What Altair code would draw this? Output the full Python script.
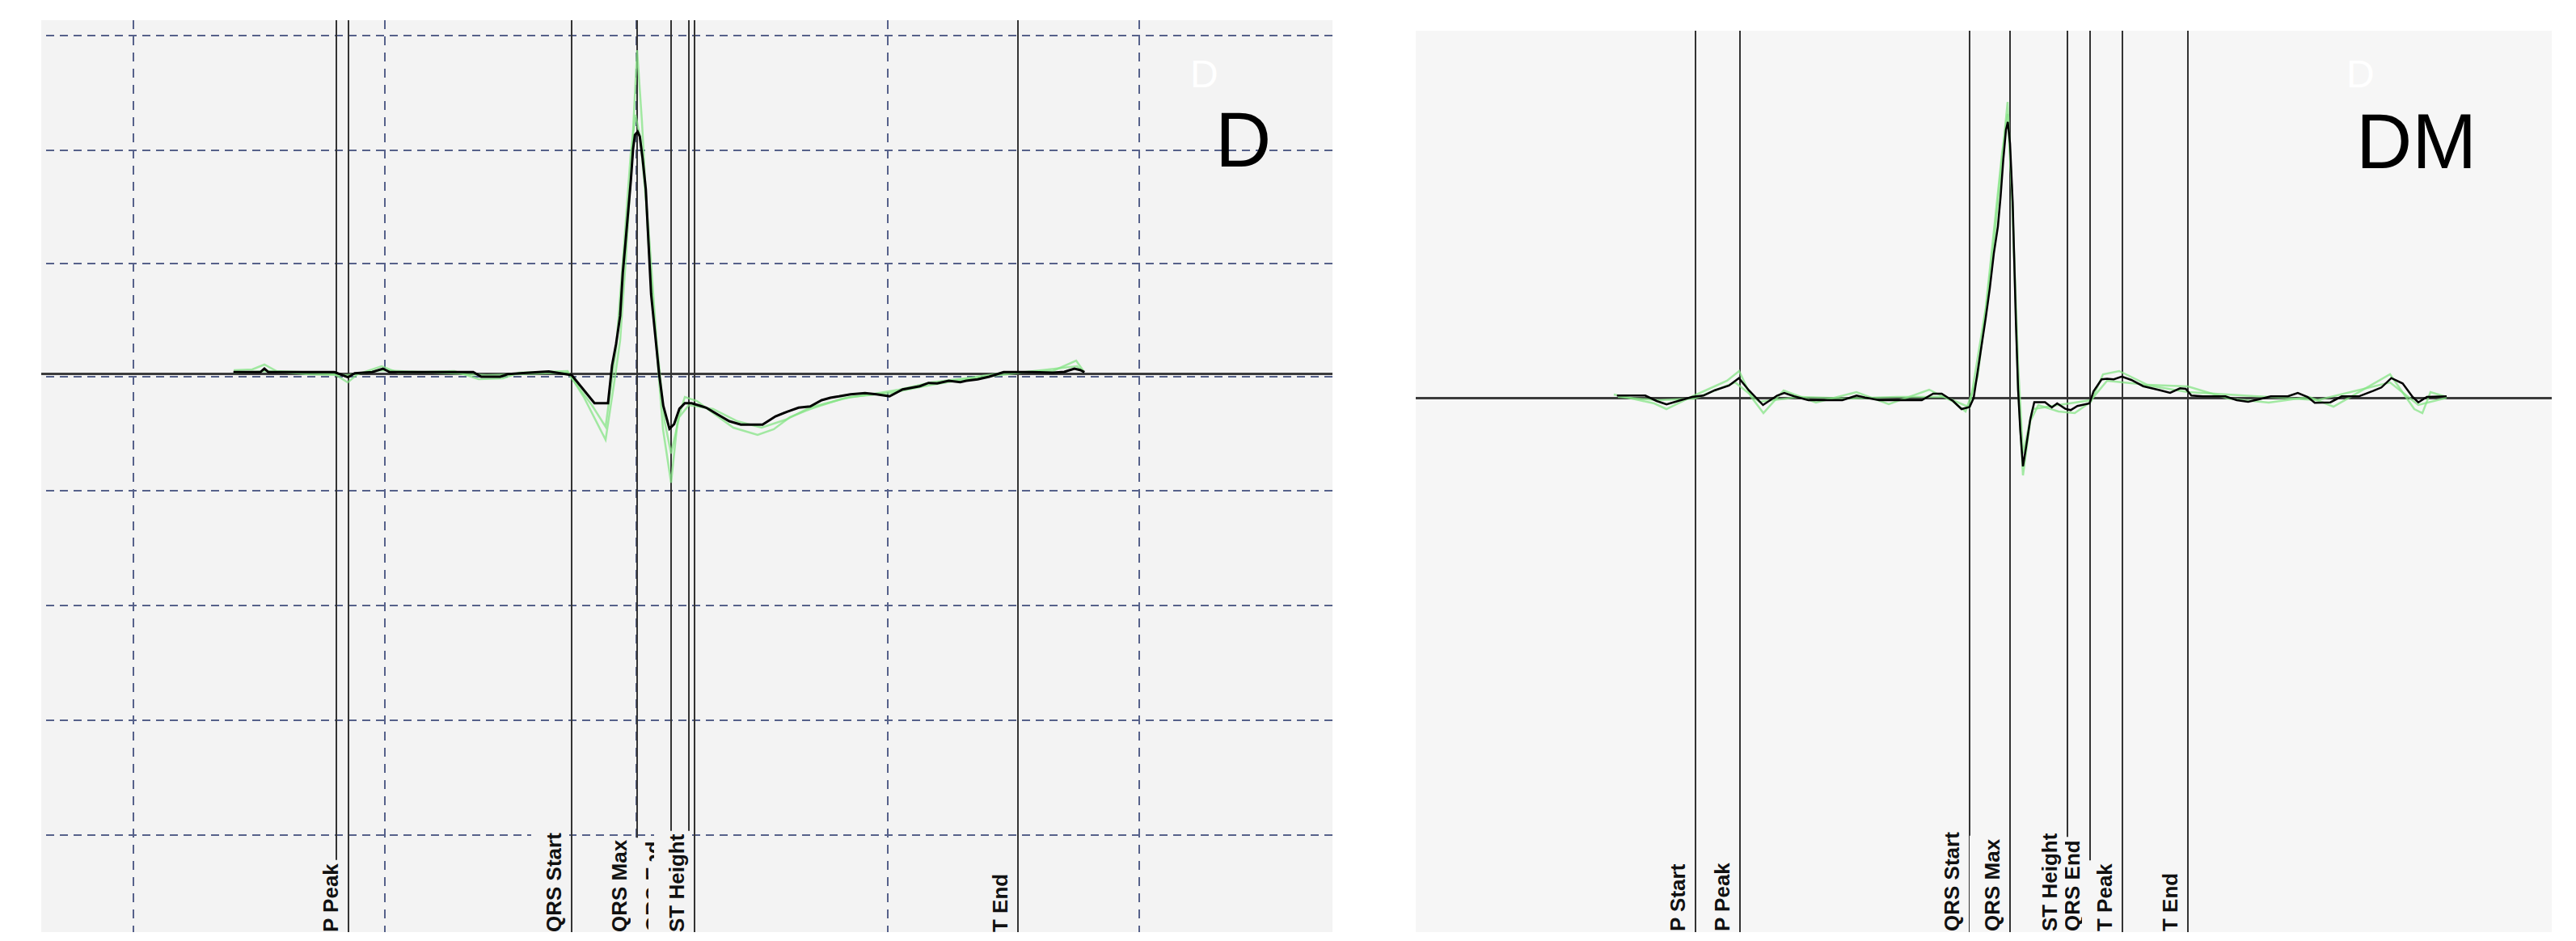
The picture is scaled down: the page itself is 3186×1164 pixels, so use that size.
import altair as alt
import pandas as pd

# ---------------- data ----------------
# time in ms from the panel's left edge, amplitude in a.u. (0 = isoelectric line)

# Left panel "D" - averaged beat (black)
left_black_t = [237.7, 271, 276, 281, 329.3, 346, 362.7, 379.3, 387.7, 409.3, 422.7, 431, 447.7, 507.7,
                534.3, 544.3, 567.7, 577.7, 611, 627.7, 656, 684.3, 701, 706, 711, 716, 719.3, 722.7, 726,
                729.3, 732, 734.3, 737.7, 740.3, 743.7, 747.7, 751, 754.3, 759.3, 764.3, 769.3, 777, 782.7,
                789.3, 796, 804.3, 814.3, 822.4, 836.7, 851, 865.3, 892.1, 908.1, 922.4, 936.7, 951, 965.3,
                976, 986.7, 1001, 1018.9, 1033.1, 1049.2, 1065.3, 1086.7, 1097.4, 1108.1, 1122.4, 1136.7,
                1143.9, 1158.1, 1172.4, 1190.3, 1226, 1251, 1265.3, 1277.8, 1284.9, 1290.3]
left_black_a = [2.2, 2.2, 6.5, 2.2, 2.2, 2.2, 2.2, -4.2, 0.8, 2.2, 6.5, 2.2, 2.2, 2.2,
                2.2, -3.5, -3.5, -0.2, 2.1, 2.9, -1.5, -36.2, -36.2, 10.5, 37.3, 71.8, 125.3, 163.6, 201.9,
                240.1, 278.4, 295.6, 299.5, 293.7, 266.9, 228.7, 163.6, 98.5, 48.8, -1, -39.2, -67.9, -62.2,
                -43.1, -36.2, -36.2, -39.2, -41.8, -50.2, -58.5, -62.8, -62.8, -52.5, -46.8, -41.8, -40.2, -32.5,
                -29.5, -27.8, -25.2, -23.8, -25.2, -27.8, -19.2, -15.2, -11.2, -11.8, -8.5, -10.2,
                -8.5, -6.8, -3.5, 2.2, 2.2, 1.5, 2.5, 6.5, 4.8, 2.2]

# Left panel - individual beats (green)
left_g1_t = [238, 261, 276, 291, 341, 363, 379, 391, 421, 441, 511, 541, 571, 591, 651, 671, 698, 709, 716,
             723, 730, 737, 743, 751, 761, 769, 779, 787, 796, 811, 831, 856, 886, 906, 926, 951, 991, 1031,
             1061, 1101, 1151, 1191, 1251, 1280, 1289]
left_g1_a = [4.5, 5.5, 11.5, 3.5, 1.5, -0.5, -10.5, -0.5, 9.5, 1.5, 3.5, -6.5, -5.5, 1.5, 3.5, -28.5, -81.5,
             -8.5, 41.5, 141.5, 261.5, 400.5, 311.5, 161.5, 31.5, -68.5, -134.5, -58.5, -28.5, -33.5, -48.5,
             -66.5, -75.5, -68.5, -53.5, -43.5, -30.5, -24.5, -19.5, -10.5, -4.5, 1.5, 3.5, 16.5, 3.5]
left_g2_t = [238, 281, 331, 379, 421, 511, 551, 651, 681, 698, 711, 721, 729, 735, 741, 751, 761, 771, 779,
             789, 801, 831, 861, 891, 921, 951, 1001, 1051, 1101, 1151, 1211, 1281, 1289]
left_g2_a = [1.5, 3.5, -0.5, -1.5, 4.5, 0.5, -1.5, 1.5, -38.5, -65.5, 31.5, 161.5, 271.5, 320.5, 291.5,
             181.5, 41.5, -58.5, -98.5, -53.5, -38.5, -43.5, -58.5, -66.5, -56.5, -41.5, -28.5, -23.5,
             -13.5, -5.5, 1.5, 9.5, 2.5]

left_marker_names = ["P Start", "P Peak", "QRS Start", "QRS Max", "QRS End", "T Peak", "ST Height", "T End"]
left_marker_t = [365, 380, 656, 737, 779, 801, 808, 1208]
left_vgrid_t = [114, 425, 736, 1047, 1358]
left_hgrid_a = [418.5, 276.5, 136.5, -3.5, -144.5, -286.5, -428.5, -570.5]

# Right panel "DM" - averaged beat (black)
right_black_t = [248.8, 283.9, 297.9, 310.2, 327.8, 341.8, 355.8, 369.9, 387.4, 399.7, 411.9, 429.5, 447,
                 455.8, 468.1, 485.6, 510.2, 527.7, 545.2, 555.8, 573.3, 608.4, 625.9, 639.9, 650.5, 664.5,
                 675, 685, 690, 695, 700, 705, 710, 715, 720, 723.3, 726.7, 730, 732.3, 735, 738.3, 742.3,
                 745, 747.7, 751, 755, 760, 765, 778.3, 786.7, 793.3, 803.3, 810, 818.3, 833.3, 838.3, 848.3,
                 855, 863.3, 873.3, 885, 899.7, 910.2, 920.7, 933, 945.3, 952.3, 959.3, 973.4, 1001.4,
                 1015.5, 1029.5, 1043.5, 1057.5, 1078.6, 1090.9, 1103.1, 1111.9, 1131.2, 1145.2, 1166.3,
                 1183.8, 1194.3, 1206.6, 1220.6, 1232.9, 1240, 1250.5, 1275]
right_black_a = [3.2, 3.2, -3.5, -7.8, -2.5, 1.5, 3.2, 9.8, 15.5, 24.8, 9.8, -8.5, 3.2,
                 6.5, 2.2, -2.5, -2.5, -2.5, 3.2, 0.8, -2.5, -2.5, -2.5, 5.5, 5.5, -3.5,
                 -13.5, -11, 0.1, 33.3, 66.5, 99.6, 136.1, 179.2, 212.4, 248.9, 295.3, 331.8, 341.7, 315.2,
                 242.2, 93, 10.1, -39.7, -84.4, -59.6, -26.4, -4.9, -4.9, -11.5, -6.5, -13.1, -14.8, -9.8,
                 -6.5, 8.4, 23.3, 24, 23.3, 26.7, 22.5, 14.8, 12.2, 9.8, 6.5, 12.2, 11.5, 3.2, 2.2, 2.2,
                 -2.5, -4.5, -1.2, 2.2, 2.2, 6.5, 1.5, -5.8, -5.2, 2.2, 2.2,
                 8.8, 13.2, 24.8, 18.2, 1.5, -5.2, 1.5, 2.2]

right_g1_t = [245, 295, 310, 345, 385, 400, 415, 430, 455, 495, 545, 585, 635, 665, 680, 695, 715, 732, 738,
              745, 751, 760, 770, 795, 815, 835, 850, 870, 905, 955, 1005, 1055, 1105, 1135, 1205, 1235,
              1245, 1255, 1275]
right_g1_a = [4.5, -6.5, -13.5, 3.5, 21.5, 33.5, 1.5, -18.5, 9.5, -5.5, 7.5, -7.5, 10.5, -4.5, -16.5,
              26.5, 191.5, 366.5, 241.5, 11.5, -95.5, -28.5, -8.5, -16.5, -18.5, -4.5, 29.5, 33.5, 16.5,
              14.5, -0.5, -5.5, 1.5, -10.5, 29.5, -13.5, -18.5, 7.5, 1.5]
right_g2_t = [250, 300, 345, 395, 425, 475, 535, 595, 655, 685, 705, 725, 732, 737, 745, 751, 763, 795,
              835, 855, 895, 955, 1055, 1115, 1205, 1240, 1275]
right_g2_a = [1.5, -2.5, -0.5, 19.5, -4.5, 1.5, -0.5, 1.5, 1.5, -11.5, 111.5, 301.5, 351.5, 261.5, 41.5,
              -68.5, -13.5, -8.5, -2.5, 21.5, 17.5, 7.5, 1.5, -2.5, 19.5, -8.5, 0.5]

right_marker_names = ["P Start", "P Peak", "QRS Start", "QRS Max", "QRS End", "ST Height", "T Peak", "T End"]
right_marker_t = [346, 401, 685, 735, 834, 806, 874, 955]

# ---------------- styling ----------------
H = 1128
LABEL_FONT = "Liberation Sans"
LABEL_SIZE = 26
CHAR_W = {" ": 278, "P": 667, "S": 667, "t": 333, "a": 556, "r": 389, "e": 556, "k": 556, "Q": 778,
          "R": 722, "M": 833, "x": 556, "E": 667, "n": 611, "d": 611, "H": 722, "i": 278, "g": 611,
          "h": 611, "T": 611}


def text_len(s):
    return sum(CHAR_W.get(c, 600) for c in s) / 1000.0 * LABEL_SIZE


def panel(W, ydom, top_off, bg, black_t, black_a, greens, names, mts, vgrid, hgrid,
          big, big_x, big_y, small_x, label_y, black_w):
    xs = alt.Scale(domain=[0, W], nice=False, zero=False)
    ys = alt.Scale(domain=ydom, nice=False, zero=False)
    one = pd.DataFrame({"k": [0]})
    layers = []
    layers.append(alt.Chart(one).mark_rect(color=bg).encode(
        x=alt.value(0), x2=alt.value(W), y=alt.value(top_off), y2=alt.value(H)))
    if vgrid:
        layers.append(alt.Chart(pd.DataFrame({"t": vgrid})).mark_rule(
            color="#56618a", strokeWidth=2, strokeDash=[11, 9]).encode(
            x=alt.X("t:Q", scale=xs, axis=None)))
    if hgrid:
        layers.append(alt.Chart(pd.DataFrame({"a": hgrid})).mark_rule(
            color="#56618a", strokeWidth=2, strokeDash=[10, 7]).encode(
            y=alt.Y("a:Q", scale=ys, axis=None)))
    layers.append(alt.Chart(pd.DataFrame({"a": [0]})).mark_rule(
        color="#3c3c3c", strokeWidth=3).encode(y=alt.Y("a:Q", scale=ys, axis=None)))
    layers.append(alt.Chart(pd.DataFrame({"t": mts})).mark_rule(
        color="#333333", strokeWidth=2).encode(
        x=alt.X("t:Q", scale=xs, axis=None), y=alt.value(top_off), y2=alt.value(H)))
    grows = []
    for i, (gt, ga) in enumerate(greens):
        for t, a in zip(gt, ga):
            grows.append({"t": t, "a": a, "beat": i})
    layers.append(alt.Chart(pd.DataFrame(grows)).mark_line(
        color="#86e486", strokeWidth=2.5, opacity=0.75).encode(
        x=alt.X("t:Q", scale=xs, axis=None), y=alt.Y("a:Q", scale=ys, axis=None),
        detail="beat:N", order="t:Q"))
    layers.append(alt.Chart(pd.DataFrame({"t": black_t, "a": black_a})).mark_line(
        color="#000000", strokeWidth=black_w).encode(
        x=alt.X("t:Q", scale=xs, axis=None), y=alt.Y("a:Q", scale=ys, axis=None), order="t:Q"))
    for name, mt in zip(names, mts):
        L = text_len(name)
        box = pd.DataFrame({"x1": [mt - 50], "x2": [mt - 3]})
        layers.append(alt.Chart(box).mark_rect(color=bg).encode(
            x=alt.X("x1:Q", scale=xs, axis=None), x2="x2:Q",
            y=alt.value(label_y - L - 4), y2=alt.value(H)))
        lab = pd.DataFrame({"t": [mt - 13], "name": [name]})
        layers.append(alt.Chart(lab).mark_text(
            angle=270, align="left", baseline="alphabetic", font=LABEL_FONT,
            fontSize=LABEL_SIZE, fontWeight="bold", color="#111111").encode(
            x=alt.X("t:Q", scale=xs, axis=None), y=alt.value(label_y), text="name:N"))
    layers.append(alt.Chart(pd.DataFrame({"s": [big[:1]]})).mark_text(
        align="left", baseline="alphabetic", font=LABEL_FONT, fontSize=48,
        color="#ffffff").encode(x=alt.value(small_x), y=alt.value(83), text="s:N"))
    layers.append(alt.Chart(pd.DataFrame({"s": [big]})).mark_text(
        align="left", baseline="alphabetic", font=LABEL_FONT, fontSize=96,
        color="#000000").encode(x=alt.value(big_x), y=alt.value(big_y), text="s:N"))
    return alt.layer(*layers).properties(width=W, height=H)


left = panel(1597, [-690.5, 437.5], 0, "#f3f3f3", left_black_t, left_black_a,
             [(left_g1_t, left_g1_a), (left_g2_t, left_g2_a)],
             left_marker_names, left_marker_t, left_vgrid_t, left_hgrid_a,
             "D", 1452, 181, 1421, 1128, 3)
right = panel(1405, [-660.5, 467.5], 13, "#f6f6f6", right_black_t, right_black_a,
              [(right_g1_t, right_g1_a), (right_g2_t, right_g2_a)],
              right_marker_names, right_marker_t, [], [],
              "DM", 1163, 183, 1151, 1127, 2.5)

chart = alt.hconcat(left, right, spacing=99).properties(
    padding={"left": 41, "top": 16, "right": 5, "bottom": 0},
    background="#ffffff",
).configure_view(strokeWidth=0)

chart.save("out.html", embed_options={"renderer": "svg", "actions": False})
